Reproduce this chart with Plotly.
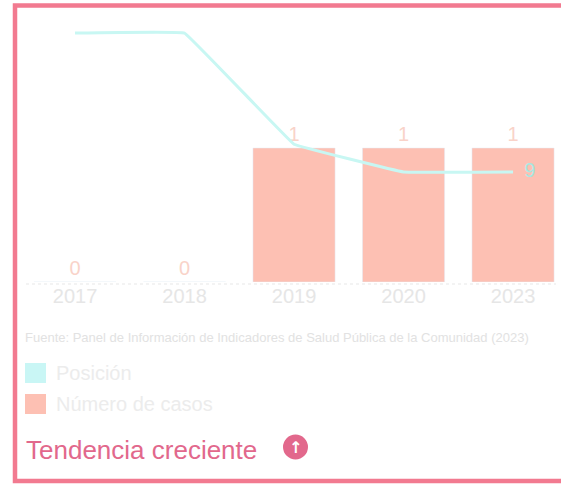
import plotly.graph_objects as go

years = ["2017", "2018", "2019", "2020", "2023"]
casos = [0, 0, 1, 1, 1]
posicion = [4, 4, 8, 9, 9]
position_labels = ["", "", "", "", "9"]
source_text = "Fuente: Panel de Información de Indicadores de Salud Pública de la Comunidad (2023)"
trend_text = "Tendencia creciente"
legend_labels = ["Posición", "Número de casos"]

W, H = 561, 484
BORDER = "#f27a90"
BAR = "#fdc0b3"
LINE = "#c8f7f3"
FAINT = "#e6e6e6"
TREND = "#e2688c"


def px(x):
    return x / W


def py(y):
    return (H - y) / H


def rect(x0, x1, y0, y1, fill):
    return dict(type="rect", xref="paper", yref="paper", x0=px(x0), x1=px(x1), y0=py(y1), y1=py(y0),
                line=dict(width=0), fillcolor=fill)


def note(text, x, y, color, size, anchor="left"):
    return dict(text=text, xref="paper", yref="paper", x=px(x), y=py(y), xanchor=anchor, yanchor="middle",
                showarrow=False, font=dict(color=color, size=size, family="Liberation Sans"))


fig = go.Figure()
fig.add_trace(go.Bar(x=years, y=casos, name=legend_labels[1], marker_color=BAR, width=0.75,
                     text=[str(v) for v in casos], textposition="outside", cliponaxis=False,
                     textfont=dict(color="#f9d3c9", size=20, family="Liberation Sans"),
                     yaxis="y", showlegend=False))
fig.add_trace(go.Scatter(x=years, y=posicion, name=legend_labels[0], mode="lines+text",
                         line=dict(color=LINE, width=3, shape="spline", smoothing=0.12),
                         text=["  " + s if s else "" for s in position_labels], textposition="middle right",
                         textfont=dict(color="#a8e8e2", size=20, family="Liberation Sans"),
                         cliponaxis=False, yaxis="y2", showlegend=False))

fig.update_layout(
    width=W, height=H, autosize=False,
    margin=dict(l=0, r=0, t=0, b=0),
    paper_bgcolor="white", plot_bgcolor="white",
    xaxis=dict(domain=[0, 1], range=[-0.685, 4.438],
               tickfont=dict(color=FAINT, size=20, family="Liberation Sans"),
               showgrid=False, zeroline=False, showline=False, ticks=""),
    yaxis=dict(domain=[py(282), py(10)], range=[0, 2.03], visible=False),
    yaxis2=dict(domain=[py(282), py(10)], range=[12.96, 3.17], overlaying="y", visible=False),
    shapes=[
        dict(type="line", xref="paper", yref="paper", x0=px(26), x1=px(556), y0=py(284), y1=py(284),
             line=dict(color="#efefef", width=1.5, dash="dot"), layer="below"),
        dict(type="rect", xref="paper", yref="paper", x0=px(15), x1=px(575), y0=py(481), y1=py(5.5),
             line=dict(color=BORDER, width=4.5), fillcolor="rgba(0,0,0,0)"),
        rect(25, 46, 363, 383, "#c9f6f5"),
        rect(25, 46, 394, 414, BAR),
        dict(type="circle", xref="paper", yref="paper", x0=px(283), x1=px(308), y0=py(459.5), y1=py(434.5),
             line=dict(width=0), fillcolor=TREND),
    ],
    annotations=[
        note(source_text, 23, 337, "#e2e2e2", 13),
        note(legend_labels[0], 54, 373, "#ececec", 20),
        note(legend_labels[1], 54, 404, "#ececec", 20),
        note(trend_text, 24, 450, TREND, 26),
        dict(text="<b>↑</b>", xref="paper", yref="paper", x=px(295.5), y=py(447), xanchor="center", yanchor="middle",
             showarrow=False, font=dict(color="white", size=16, family="DejaVu Sans")),
    ],
)
fig.write_html("out.html", config=dict(displayModeBar=False), post_script="document.body.style.margin='0';")
